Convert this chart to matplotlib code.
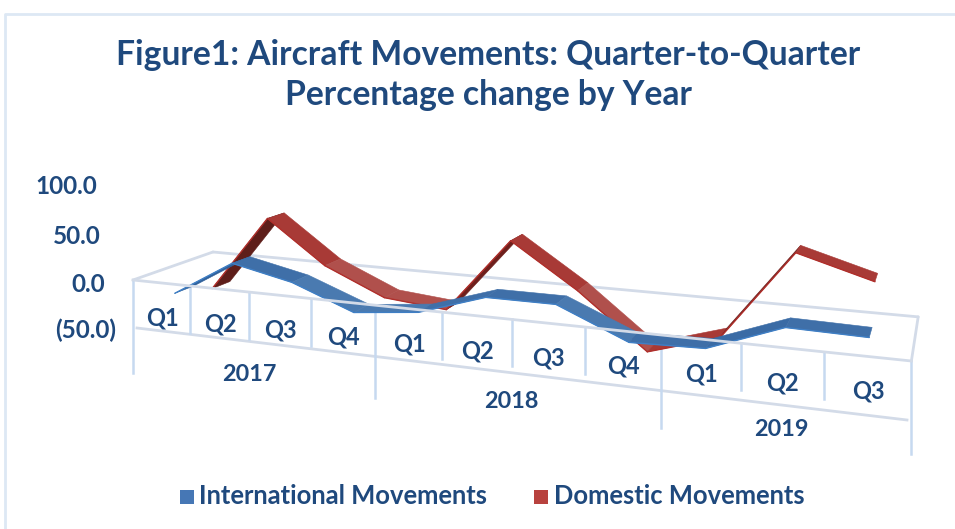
import matplotlib
matplotlib.use("Agg")
import matplotlib.pyplot as plt
import numpy as np
from matplotlib.patches import Rectangle

quarters = ["Q1","Q2","Q3","Q4","Q1","Q2","Q3","Q4","Q1","Q2","Q3"]
years = ["2017","2018","2019"]
year_spans = [4,4,3]
value_ticks = [100,50,0,-50]
value_tick_labels = ["100.0","50.0","0.0","(50.0)"]
international = [-16,21,7.6,-16,-9.2,11.6,11.5,-16.4,-14.5,11,9.5]
domestic = [-26.6,55,10,-17.4,-23.2,52,8.5,-43.7,-23,62,41.5]
series_names = ["International Movements","Domestic Movements"]

NAVY = "#1f497d"
GRID = "#d3dbe8"
TICK = "#c6d9f0"
plt.rcParams['font.family'] = ['Lato','DejaVu Sans']

fig = plt.figure(figsize=(9.55,5.29), dpi=100)
ax = fig.add_axes([0,0,1,1])
ax.set_xlim(0,955); ax.set_ylim(529,0); ax.axis('off')

n = len(quarters)
def project(cat, val, d):
    """Perspective camera: category position, value, depth (0 front, 1 back) -> picture position."""
    cat = np.asarray(cat, float); val = np.asarray(val, float)
    u = cat/n
    w = 1 - .21*u + .1058*d
    return (587*u + 102.5*d + 133)/w, (5.19*u - 1.34*d + 280 - .966*val)/w

def floorline(c0, c1, d0, d1, **kw):
    x0,y0 = project(c0,0,d0); x1,y1 = project(c1,0,d1)
    ax.plot([x0,x1],[y0,y1],**kw)

# floor behind the ribbons
gkw = dict(color=GRID, lw=2.0, solid_capstyle='round', zorder=1)
floorline(0,n,1,1,**gkw)
floorline(0,0,0,1,**gkw)
floorline(n,n,0,1,**gkw)

def ribbon(values, d0, d1, rise, fall, alt, edge, z):
    cats = np.arange(n)+.5
    for i in range(n-1):
        xa,ya = project(cats[i],values[i],d0); xb,yb = project(cats[i+1],values[i+1],d0)
        xc,yc = project(cats[i+1],values[i+1],d1); xd,yd = project(cats[i],values[i],d1)
        if values[i+1] > values[i] + 25:
            c = rise[0] if i == 0 else rise[1]
        else:
            c = alt if i in (2,3,6) else fall
        ax.fill([xa,xb,xc,xd],[ya,yb,yc,yd],facecolor=c,edgecolor=c,lw=.4,zorder=z)
        ax.plot([xa,xb],[ya,yb],color=edge,lw=1.0,zorder=z+.1,solid_capstyle='round')

ribbon(domestic,.63,.87,("#5e1e1a","#6e1f1c"),"#a83a36","#b0504c","#b02f2b",3)
ribbon(international,.16,.39,("#2f609a","#3a6ba5"),"#3f6fa8","#4a7ab0","#3f7fc5",4)

# front axis
cuts = np.arange(n+1)
floorline(0,n,0,0,color=GRID,lw=2.0,zorder=5)
year_ends = np.cumsum([0]+year_spans)
for c in cuts:
    x,y = project(c,0,0)
    drop = 93 if c in year_ends else 47
    ax.plot([x,x],[y,y+drop],color=TICK,lw=1.8,zorder=2)
ax.plot([137,907],[328,420],color=GRID,lw=2.0,zorder=1.5)

for c,q in enumerate(quarters):
    x,y = project(c+.5,0,0)
    ax.text(x+1,y+35,q,color=NAVY,fontsize=17,fontweight='bold',ha='center',va='center')
for i,yr in enumerate(years):
    mid = (year_ends[i]+year_ends[i+1])/2
    x,y = project(mid,0,0)
    ax.text(x,y+82,yr,color=NAVY,fontsize=16.8,fontweight='bold',ha='center',va='center')

for v,lab,xr,yc in zip(value_ticks,value_tick_labels,[97,101,105,116],[186,236,284,330]):
    ax.text(xr,yc,lab,color=NAVY,fontsize=17.5,fontweight='bold',ha='right',va='center')

ax.text(488,55,"Figure1: Aircraft Movements: Quarter-to-Quarter",color=NAVY,fontsize=24.2,fontweight='bold',ha='center',va='center')
ax.text(488,95,"Percentage change by Year",color=NAVY,fontsize=24.2,fontweight='bold',ha='center',va='center')

# legend
ax.add_patch(Rectangle((180,490),14,14,facecolor="#4677b5",edgecolor='none'))
ax.text(199,496,series_names[0],color=NAVY,fontsize=18.4,fontweight='bold',ha='left',va='center')
ax.add_patch(Rectangle((534,490),14,14,facecolor="#b8423e",edgecolor='none'))
ax.text(554,496,series_names[1],color=NAVY,fontsize=18.4,fontweight='bold',ha='left',va='center')

# outer frame
ax.plot([955,4.5,4.5],[13.5,13.5,529],color="#dde8f4",lw=2,zorder=0)

fig.savefig("out.png",dpi=100)
